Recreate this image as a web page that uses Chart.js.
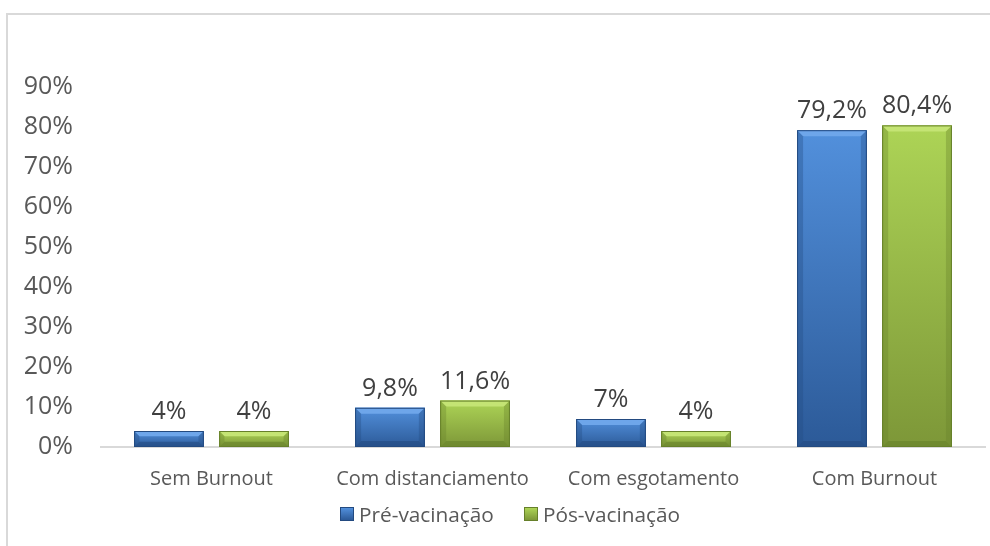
<!DOCTYPE html>
<html>
<head>
<meta charset="utf-8">
<script src="https://cdn.jsdelivr.net/npm/chart.js@4"></script>
<style>
  body { margin: 0; background: #fff; width: 990px; height: 546px; overflow: hidden; position: relative; font-family: 'Open Sans', sans-serif; }
  #frame { position: absolute; left: 6px; top: 13px; width: 1000px; height: 600px; border-left: 2px solid #d9d9d9; border-top: 2px solid #d9d9d9; }
  #wrap { position: absolute; left: 0; top: 0; width: 990px; height: 546px; }
  #legend { position: absolute; left: 340px; top: 500px; display: flex; align-items: center; color: #595959; font-size: 20.8px; }
  #legend .item { display: flex; align-items: center; margin-right: 30px; }
  #legend .box { width: 14px; height: 14px; margin-right: 5px; box-sizing: border-box; }
</style>
</head>
<body>
<div id="frame"></div>
<div id="wrap"><canvas id="chart" width="990" height="546"></canvas></div>
<div id="legend"></div>
<script>
// chart data
const categories = ['Sem Burnout', 'Com distanciamento', 'Com esgotamento', 'Com Burnout'];
const seriesNames = ['Pré-vacinação', 'Pós-vacinação'];
const preValues = [4, 9.8, 7, 79.2];
const posValues = [4, 11.6, 4, 80.4];
const yTicks = [0, 10, 20, 30, 40, 50, 60, 70, 80, 90];

// colours for the bevelled bars
const palettes = [
  { base: '#3a70bb', top: '#5290dc', bottom: '#2c5a98', light: '#6ea6ea', dark: '#234a80' },
  { base: '#93b944', top: '#add456', bottom: '#7d9738', light: '#c4e474', dark: '#66802a' }
];

const fmt = v => (Number.isInteger(v) ? String(v) : v.toFixed(1).replace('.', ',')) + '%';

// draws gradient + bevel over each bar
const bevelPlugin = {
  id: 'bevel',
  afterDatasetsDraw(chart) {
    const ctx = chart.ctx;
    chart.data.datasets.forEach((ds, di) => {
      const pal = palettes[di];
      chart.getDatasetMeta(di).data.forEach(bar => {
        const l = bar.x - bar.width / 2, r = bar.x + bar.width / 2;
        const t = bar.y, b = bar.base;
        const h = b - t;
        const bv = Math.min(6, h / 3);
        ctx.save();
        const g = ctx.createLinearGradient(0, t, 0, b);
        g.addColorStop(0, pal.top);
        g.addColorStop(1, pal.bottom);
        ctx.fillStyle = g;
        ctx.fillRect(l, t, r - l, h);
        // top bevel
        ctx.fillStyle = pal.light;
        ctx.beginPath();
        ctx.moveTo(l, t); ctx.lineTo(r, t); ctx.lineTo(r - bv, t + bv); ctx.lineTo(l + bv, t + bv);
        ctx.closePath(); ctx.fill();
        // side + bottom bevels
        ctx.globalAlpha = 0.35;
        ctx.fillStyle = pal.dark;
        ctx.beginPath();
        ctx.moveTo(r, t); ctx.lineTo(r, b); ctx.lineTo(r - bv, b - bv); ctx.lineTo(r - bv, t + bv);
        ctx.closePath(); ctx.fill();
        ctx.beginPath();
        ctx.moveTo(l, t); ctx.lineTo(l, b); ctx.lineTo(l + bv, b - bv); ctx.lineTo(l + bv, t + bv);
        ctx.closePath(); ctx.fill();
        ctx.globalAlpha = 0.6;
        ctx.beginPath();
        ctx.moveTo(l, b); ctx.lineTo(r, b); ctx.lineTo(r - bv, b - bv); ctx.lineTo(l + bv, b - bv);
        ctx.closePath(); ctx.fill();
        ctx.globalAlpha = 1;
        ctx.strokeStyle = pal.dark;
        ctx.lineWidth = 1;
        ctx.strokeRect(l + 0.5, t + 0.5, r - l - 1, h - 1);
        ctx.restore();
      });
    });
  }
};

// value labels above bars
const valueLabels = {
  id: 'valueLabels',
  afterDatasetsDraw(chart) {
    const ctx = chart.ctx;
    ctx.save();
    ctx.font = '25px "Open Sans"';
    ctx.fillStyle = '#404040';
    ctx.textAlign = 'center';
    ctx.textBaseline = 'alphabetic';
    chart.data.datasets.forEach((ds, di) => {
      chart.getDatasetMeta(di).data.forEach((bar, i) => {
        ctx.fillText(fmt(ds.data[i]), bar.x, bar.y - 12);
      });
    });
    ctx.restore();
  }
};

const chart = new Chart(document.getElementById('chart'), {
  type: 'bar',
  data: {
    labels: categories,
    datasets: [
      { label: seriesNames[0], data: preValues, backgroundColor: palettes[0].base },
      { label: seriesNames[1], data: posValues, backgroundColor: palettes[1].base }
    ]
  },
  options: {
    responsive: false,
    animation: false,
    layout: { padding: { top: 87, right: 5, left: 0, bottom: 0 } },
    categoryPercentage: 0.77,
    barPercentage: 0.82,
    plugins: { legend: { display: false }, tooltip: { enabled: false } },
    scales: {
      x: {
        grid: { display: false, drawTicks: false },
        border: { color: '#d9d9d9', width: 2 },
        ticks: { color: '#595959', font: { family: 'Open Sans', size: 20 }, padding: 20 },
        afterFit(scale) { scale.height = 99; }
      },
      y: {
        min: 0, max: 90,
        grid: { display: false, drawTicks: false },
        border: { display: false },
        afterBuildTicks(scale) { scale.ticks = yTicks.map(v => ({ value: v })); },
        ticks: { color: '#595959', font: { family: 'Open Sans', size: 25 }, padding: 28, callback: v => v + '%' },
        afterFit(scale) { scale.width = 101; }
      }
    }
  },
  plugins: [bevelPlugin, valueLabels]
});

// html legend built from the datasets
const legendEl = document.getElementById('legend');
chart.data.datasets.forEach((ds, i) => {
  const item = document.createElement('div');
  item.className = 'item';
  const box = document.createElement('span');
  box.className = 'box';
  box.style.background = 'linear-gradient(' + palettes[i].top + ',' + palettes[i].bottom + ')';
  box.style.border = '1px solid ' + palettes[i].dark;
  const txt = document.createElement('span');
  txt.textContent = ds.label;
  item.appendChild(box);
  item.appendChild(txt);
  legendEl.appendChild(item);
});
</script>
</body>
</html>
